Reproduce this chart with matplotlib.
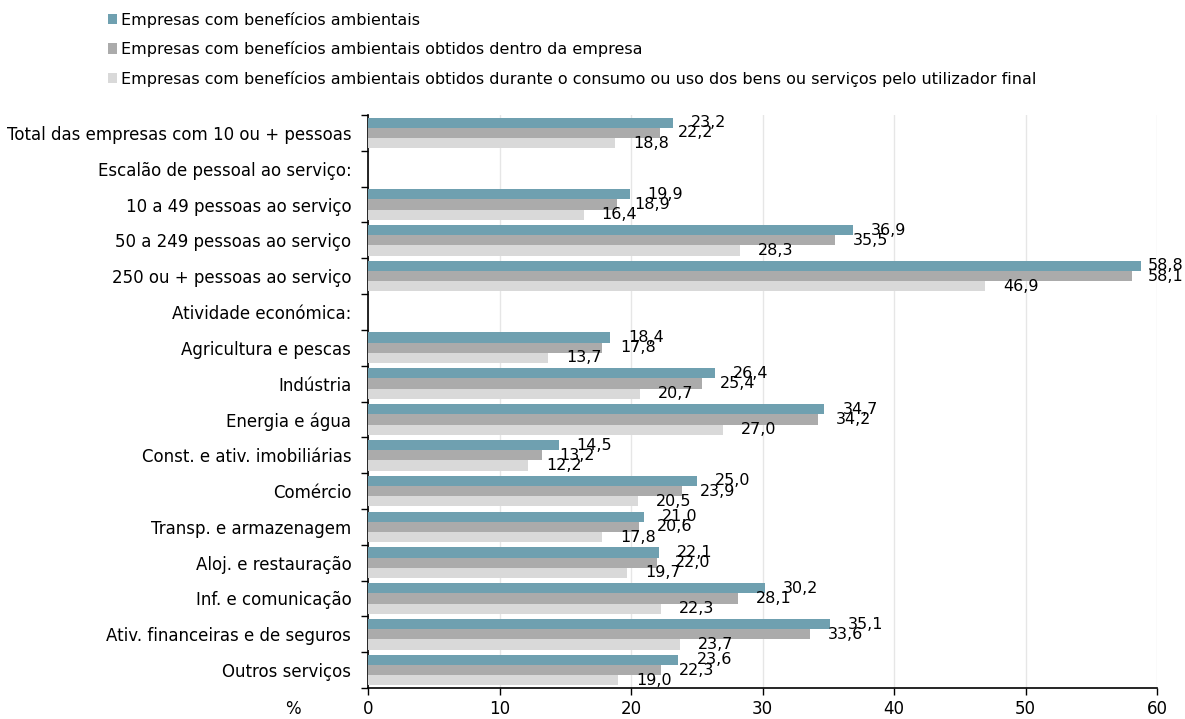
import matplotlib.pyplot as plt
import numpy as np

plt.rcParams['font.family'] = ['DejaVu Sans']

# categorias (linhas de cabeçalho sem valores)
categorias = [
    'Total das empresas com 10 ou + pessoas',
    'Escalão de pessoal ao serviço:',
    '10 a 49 pessoas ao serviço',
    '50 a 249 pessoas ao serviço',
    '250 ou + pessoas ao serviço',
    'Atividade económica:',
    'Agricultura e pescas',
    'Indústria',
    'Energia e água',
    'Const. e ativ. imobiliárias',
    'Comércio',
    'Transp. e armazenagem',
    'Aloj. e restauração',
    'Inf. e comunicação',
    'Ativ. financeiras e de seguros',
    'Outros serviços',
]

beneficios = [23.2, None, 19.9, 36.9, 58.8, None, 18.4, 26.4, 34.7, 14.5, 25.0, 21.0, 22.1, 30.2, 35.1, 23.6]
dentro = [22.2, None, 18.9, 35.5, 58.1, None, 17.8, 25.4, 34.2, 13.2, 23.9, 20.6, 22.0, 28.1, 33.6, 22.3]
consumo = [18.8, None, 16.4, 28.3, 46.9, None, 13.7, 20.7, 27.0, 12.2, 20.5, 17.8, 19.7, 22.3, 23.7, 19.0]

series = [
    ('Empresas com benefícios ambientais', beneficios, '#6FA0B0'),
    ('Empresas com benefícios ambientais obtidos dentro da empresa', dentro, '#ABABAB'),
    ('Empresas com benefícios ambientais obtidos durante o consumo ou uso dos bens ou serviços pelo utilizador final',
     consumo, '#D9D9D9'),
]

fig = plt.figure(figsize=(11.85, 7.19), dpi=100)
ax = fig.add_axes([368 / 1185, 1 - 688 / 719, (1157 - 368) / 1185, (688 - 115) / 719])

n = len(categorias)
y = np.arange(n)
h = 0.285
offsets = [-h, 0, h]

handles = []
for (nome, vals, cor), off in zip(series, offsets):
    v = np.array([np.nan if x is None else x for x in vals])
    b = ax.barh(y + off, v, height=h, color=cor, label=nome, zorder=3)
    handles.append(b)
    for yi, xi in zip(y, v):
        if np.isnan(xi):
            continue
        txt = f'{xi:.1f}'.replace('.', ',')
        if xi > 55:
            # junto à margem direita (como no original)
            ax.annotate(txt, (1.0, yi + off), xycoords=('figure fraction', 'data'),
                        xytext=(-1, 0), textcoords='offset points',
                        ha='right', va='center', fontsize=11.5, zorder=4)
        else:
            ax.annotate(txt, (xi, yi + off), xytext=(13, 0),
                        textcoords='offset points', ha='left', va='center', fontsize=11.5, zorder=4)

ax.set_ylim(n - 0.5, -0.5)
ax.set_xlim(0, 60)
ax.set_xticks(range(0, 61, 10))
ax.set_xticklabels([str(t) for t in range(0, 61, 10)], fontsize=12)
ax.set_yticks(np.arange(-0.5, n, 1.0))
ax.set_yticklabels([])
ax.set_yticks(y, minor=True)
ax.set_yticklabels(categorias, minor=True, fontsize=12)
ax.tick_params(axis='y', which='minor', length=0, pad=12)
ax.tick_params(axis='y', which='major', length=5, width=1, direction='out')
ax.tick_params(axis='x', length=5, width=1, direction='out', pad=4)

ax.grid(axis='x', color='#E6E6E6', linewidth=1, zorder=0)
for s in ['top', 'right']:
    ax.spines[s].set_visible(False)
ax.spines['left'].set_linewidth(1.2)
ax.spines['bottom'].set_linewidth(1.2)

fig.text(293 / 1185, 1 - 709 / 719, '%', fontsize=12, ha='center', va='center')

fig.legend(handles=handles, loc='upper left', bbox_to_anchor=(95 / 1185, 1 + 1 / 719),
           frameon=False, fontsize=11.5, handlelength=0.6, handleheight=0.6,
           handletextpad=0.2, labelspacing=0.84, borderpad=0.3)

fig.savefig('out.png', dpi=100)
